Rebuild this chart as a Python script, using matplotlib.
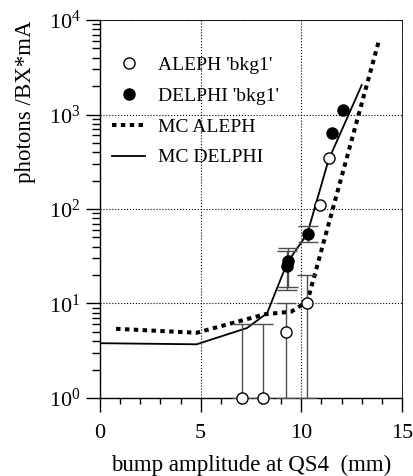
import matplotlib
matplotlib.use("Agg")
from matplotlib import pyplot
from matplotlib.lines import Line2D
import matplotlib.ticker as ticker
import numpy

pyplot.rcParams['font.family'] = ['Liberation Serif', 'DejaVu Serif']
pyplot.rcParams['mathtext.fontset'] = 'custom'
pyplot.rcParams['mathtext.rm'] = 'Liberation Serif'

# ALEPH 'bkg1' (open circles)
aleph_x = [7.05, 8.1, 9.25, 10.3, 10.95, 11.35]
aleph_y = [1, 1, 5, 10.2, 110, 345]
aleph_lo = [1, 1, 1, 1, 110, 345]
aleph_hi = [6, 6, 10, 20, 110, 345]

# DELPHI 'bkg1' (filled circles)
delphi_x = [9.28, 9.36, 10.33, 11.5, 12.05]
delphi_y = [25, 28, 55, 630, 1120]
delphi_lo = [14, 15, 45, 630, 1120]
delphi_hi = [36, 39, 66, 630, 1120]

# Monte Carlo curves
mc_aleph_x = [0.8, 4.8, 8.2, 9.5, 10.3, 13.85]
mc_aleph_y = [5.4, 4.9, 7.7, 8.2, 10.5, 6000]
mc_delphi_x = [0.0, 4.8, 7.3, 8.3, 9.3, 10.3, 11.35, 13.0]
mc_delphi_y = [3.8, 3.7, 5.5, 7.9, 27, 55, 330, 2050]

fig = pyplot.figure(figsize=(4.14, 4.76), dpi=100)
ax = fig.add_axes([0.2415, 0.1639, 0.7295, 0.794])
ax.set_yscale('log')
ax.set_xlim(0, 15)
ax.set_ylim(1, 1e4)

#Сетка
ax.grid(which='major', color='k', linestyle=':', linewidth=0.8)

#MC кривые
ax.plot(mc_aleph_x, mc_aleph_y, color='k', linewidth=2.9,
        linestyle=(0, (1.1, 1.1)), dash_capstyle='butt', zorder=3)
ax.plot(mc_delphi_x, mc_delphi_y, color='k', linewidth=1.3, zorder=3)

#Данные с ошибками (только точки, где ошибка есть)
def draw_err(x, y, lo, hi):
    x, y, lo, hi = [numpy.array(a, dtype=float) for a in (x, y, lo, hi)]
    m = hi > lo
    ax.errorbar(x[m], y[m], yerr=[y[m] - lo[m], hi[m] - y[m]], fmt='none',
                ecolor='0.3', elinewidth=1, capsize=7, capthick=1, zorder=4)

draw_err(aleph_x, aleph_y, aleph_lo, aleph_hi)
draw_err(delphi_x, delphi_y, delphi_lo, delphi_hi)
ax.plot(aleph_x, aleph_y, 'o', mfc='white', mec='k', mew=1, ms=8, zorder=5, clip_on=False)
ax.plot(delphi_x, delphi_y, 'o', mfc='k', mec='k', ms=8, zorder=5)

#Деления
ax.xaxis.set_major_locator(ticker.MultipleLocator(5))
ax.xaxis.set_minor_locator(ticker.MultipleLocator(1))
ax.yaxis.set_major_locator(ticker.LogLocator(base=10, numticks=10))
ax.yaxis.set_minor_locator(ticker.LogLocator(base=10, subs=numpy.arange(2, 10), numticks=10))
ax.yaxis.set_minor_formatter(ticker.NullFormatter())
ax.tick_params(which='major', direction='out', length=10, width=1, labelsize=16)
ax.tick_params(axis='x', which='minor', direction='out', length=4, width=1)
ax.tick_params(axis='y', which='minor', direction='out', length=6, width=1)
ax.tick_params(axis='x', which='major', pad=9)
ax.tick_params(axis='y', which='major', pad=4)

for s in ['top', 'right']:
    ax.spines[s].set_linewidth(0.6)
for s in ['left', 'bottom']:
    ax.spines[s].set_linewidth(1)

#Подписи осей
ax.set_xlabel('bump amplitude at QS4  (mm)', fontsize=16.5, labelpad=8)
ax.set_ylabel('photons /BX*mA', fontsize=16.5, loc='top', labelpad=9)

#Легенда
handles = [
    Line2D([], [], marker='o', linestyle='none', mfc='white', mec='k', ms=8),
    Line2D([], [], marker='o', linestyle='none', mfc='k', mec='k', ms=8),
    Line2D([], [], color='k', linewidth=2.9, linestyle=(0, (1.1, 1.1)), dash_capstyle='butt'),
    Line2D([], [], color='k', linewidth=1.3),
]
labels = ["ALEPH 'bkg1'", "DELPHI 'bkg1'", 'MC ALEPH', 'MC DELPHI']
ax.legend(handles, labels, loc='upper left', bbox_to_anchor=(-0.005, 0.94), frameon=False,
          fontsize=14, handlelength=1.7, handletextpad=0.65, labelspacing=0.68,
          borderaxespad=0.3)

fig.savefig('out.png')
